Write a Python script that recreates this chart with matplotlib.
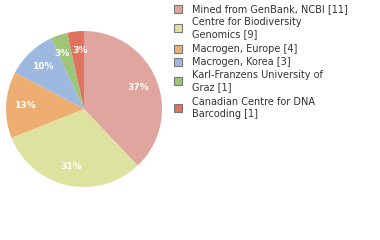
import matplotlib
matplotlib.use('Agg')
import matplotlib.pyplot as plt
from matplotlib.patches import Rectangle

# data
labels = ['Mined from GenBank, NCBI [11]', 'Centre for Biodiversity\nGenomics [9]',
          'Macrogen, Europe [4]', 'Macrogen, Korea [3]',
          'Karl-Franzens University of\nGraz [1]', 'Canadian Centre for DNA\nBarcoding [1]']
counts = [11, 9, 4, 3, 1, 1]
colors = ['#e0a59e', '#dde29e', '#eeae72', '#9db9df', '#9ec679', '#df735e']

W, H = 380, 240
fig = plt.figure(figsize=(3.8, 2.4), dpi=100)

# pie: centre (84,109), radius 78 px
ax = fig.add_axes([6 / W, (H - 187) / H, 156 / W, 156 / H])
# percentages are truncated, not rounded, in the original
wedges, texts, autotexts = ax.pie(counts, colors=colors, startangle=90, counterclock=False,
                                  autopct=lambda p: '%d%%' % int(p), pctdistance=0.75,
                                  radius=1, wedgeprops=dict(linewidth=0))
for t in autotexts:
    t.set_color('white')
    t.set_fontsize(6.6)
    t.set_fontweight('bold')
# the two small slices sit side by side, push their labels apart a little
x, y = autotexts[4].get_position()
autotexts[4].set_position((x - 0.04, y))
x, y = autotexts[5].get_position()
autotexts[5].set_position((x + 0.03, y))
ax.set_xlim(-1, 1)
ax.set_ylim(-1, 1)
ax.set_aspect('auto')
ax.axis('off')

# legend, drawn by hand
ys = [9, 28, 49, 62, 81, 108]
for lab, c, y in zip(labels, colors, ys):
    fig.patches.append(Rectangle((174 / W, 1 - (y + 4) / H), 8 / W, 8 / H,
                                 transform=fig.transFigure, facecolor=c,
                                 edgecolor='#777777', linewidth=0.8))
    fig.text(192 / W, 1 - y / H, lab, fontsize=7, va='center', ha='left',
             color='#333333', linespacing=1.2)

plt.savefig('out.png', dpi=100)
